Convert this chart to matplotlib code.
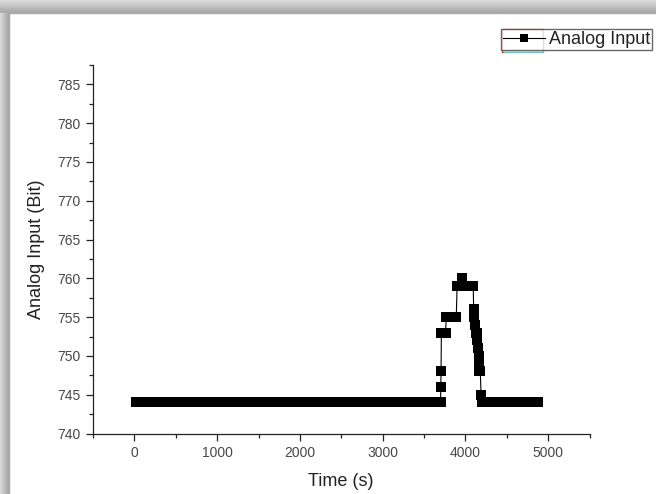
import matplotlib
matplotlib.use("Agg")
import matplotlib.pyplot as plt
import numpy as np
from matplotlib.patches import Rectangle
from matplotlib.ticker import MultipleLocator

plt.rcParams['font.family'] = ['Liberation Sans', 'DejaVu Sans']

# flat stretches at 744 bit (sampling grid 20 s)
base1_t = np.arange(20, 3701, 20)
base2_t = np.arange(4200, 4881, 20)
base_value = 744

# the bump around 4000 s
peak_t = [3703, 3706, 3710, 3735, 3760, 3770, 3800, 3830, 3860, 3890,
          3900, 3930, 3965, 3990, 4020, 4050, 4080, 4095,
          4100, 4110, 4120, 4125, 4135, 4140, 4150, 4160, 4165, 4170, 4180, 4190]
peak_v = [746, 748, 753, 753, 753, 755, 755, 755, 755, 755,
          759, 759, 760, 759, 759, 759, 759, 759,
          756, 755, 754, 753, 752, 753, 751, 750, 749, 748, 748, 745]

t = np.concatenate([base1_t, peak_t, base2_t])
v = np.concatenate([np.full(len(base1_t), base_value), peak_v,
                    np.full(len(base2_t), base_value)])

W, H = 656, 494
fig = plt.figure(figsize=(W / 100, H / 100), dpi=100)
fig.patch.set_facecolor('white')

# grey drop shadow on top and left edges
top_band, left_band = 13, 9
for i in range(top_band):
    g = 0.86 - 0.20 * i / (top_band - 1)
    fig.patches.append(Rectangle((0, 1 - (i + 1) / H), 1, 1 / H,
                                 transform=fig.transFigure, color=(g, g, g), zorder=0))
for i in range(left_band):
    g = 0.86 - 0.20 * i / (left_band - 1)
    fig.patches.append(Rectangle((i / W, 0), 1 / W, 1 - top_band / H,
                                 transform=fig.transFigure, color=(g, g, g), zorder=0))

ax = fig.add_axes([93 / W, 1 - 433.5 / H, (589.5 - 93) / W, (433.5 - 65) / H])
ax.plot(t, v, color='black', lw=0.8, marker='s', ms=6.5, mew=0,
        label='Analog Input')

ax.set_xlim(-500, 5500)
ax.set_ylim(740, 787.5)
ax.xaxis.set_major_locator(MultipleLocator(1000))
ax.xaxis.set_minor_locator(MultipleLocator(1000, offset=500))
ax.yaxis.set_major_locator(MultipleLocator(5))
ax.yaxis.set_minor_locator(MultipleLocator(5, offset=2.5))
ax.set_xticks(np.arange(0, 5001, 1000))
ax.set_yticks(np.arange(740, 786, 5))

for s in ['top', 'right']:
    ax.spines[s].set_visible(False)
for s in ['left', 'bottom']:
    ax.spines[s].set_linewidth(0.9)
    ax.spines[s].set_color('#222222')

ax.tick_params(which='major', direction='out', length=5, width=0.9,
               color='#222222', labelsize=10, labelcolor='#484848', pad=4)
ax.tick_params(which='minor', direction='out', length=2.8, width=0.9,
               color='#222222')

ax.set_xlabel('Time (s)', fontsize=13, color='#222222', labelpad=9)
ax.set_ylabel('Analog Input (Bit)', fontsize=13, color='#222222', labelpad=9)

leg = fig.legend(loc='upper right', bbox_to_anchor=(652 / W, 1 - 29 / H),
                 frameon=True, fancybox=False, fontsize=13, borderpad=0.12,
                 handlelength=2.3, handletextpad=0.2, borderaxespad=0,
                 markerscale=0.85)
leg.get_frame().set_edgecolor('#444444')
leg.get_frame().set_linewidth(1.0)
for txt in leg.get_texts():
    txt.set_color('#222222')

# Origin-style selection marks around the legend symbol
fig.patches.append(Rectangle((502 / W, 1 - 52 / H), 41 / W, 23 / H,
                             transform=fig.transFigure, fill=False,
                             edgecolor='#e03030', lw=0.9, zorder=5))
fig.lines.append(plt.Line2D([505 / W, 543 / W], [1 - 52.5 / H, 1 - 52.5 / H],
                            transform=fig.transFigure, color='#60e0e8', lw=1.2, zorder=6))

fig.savefig('out.png', dpi=100)
